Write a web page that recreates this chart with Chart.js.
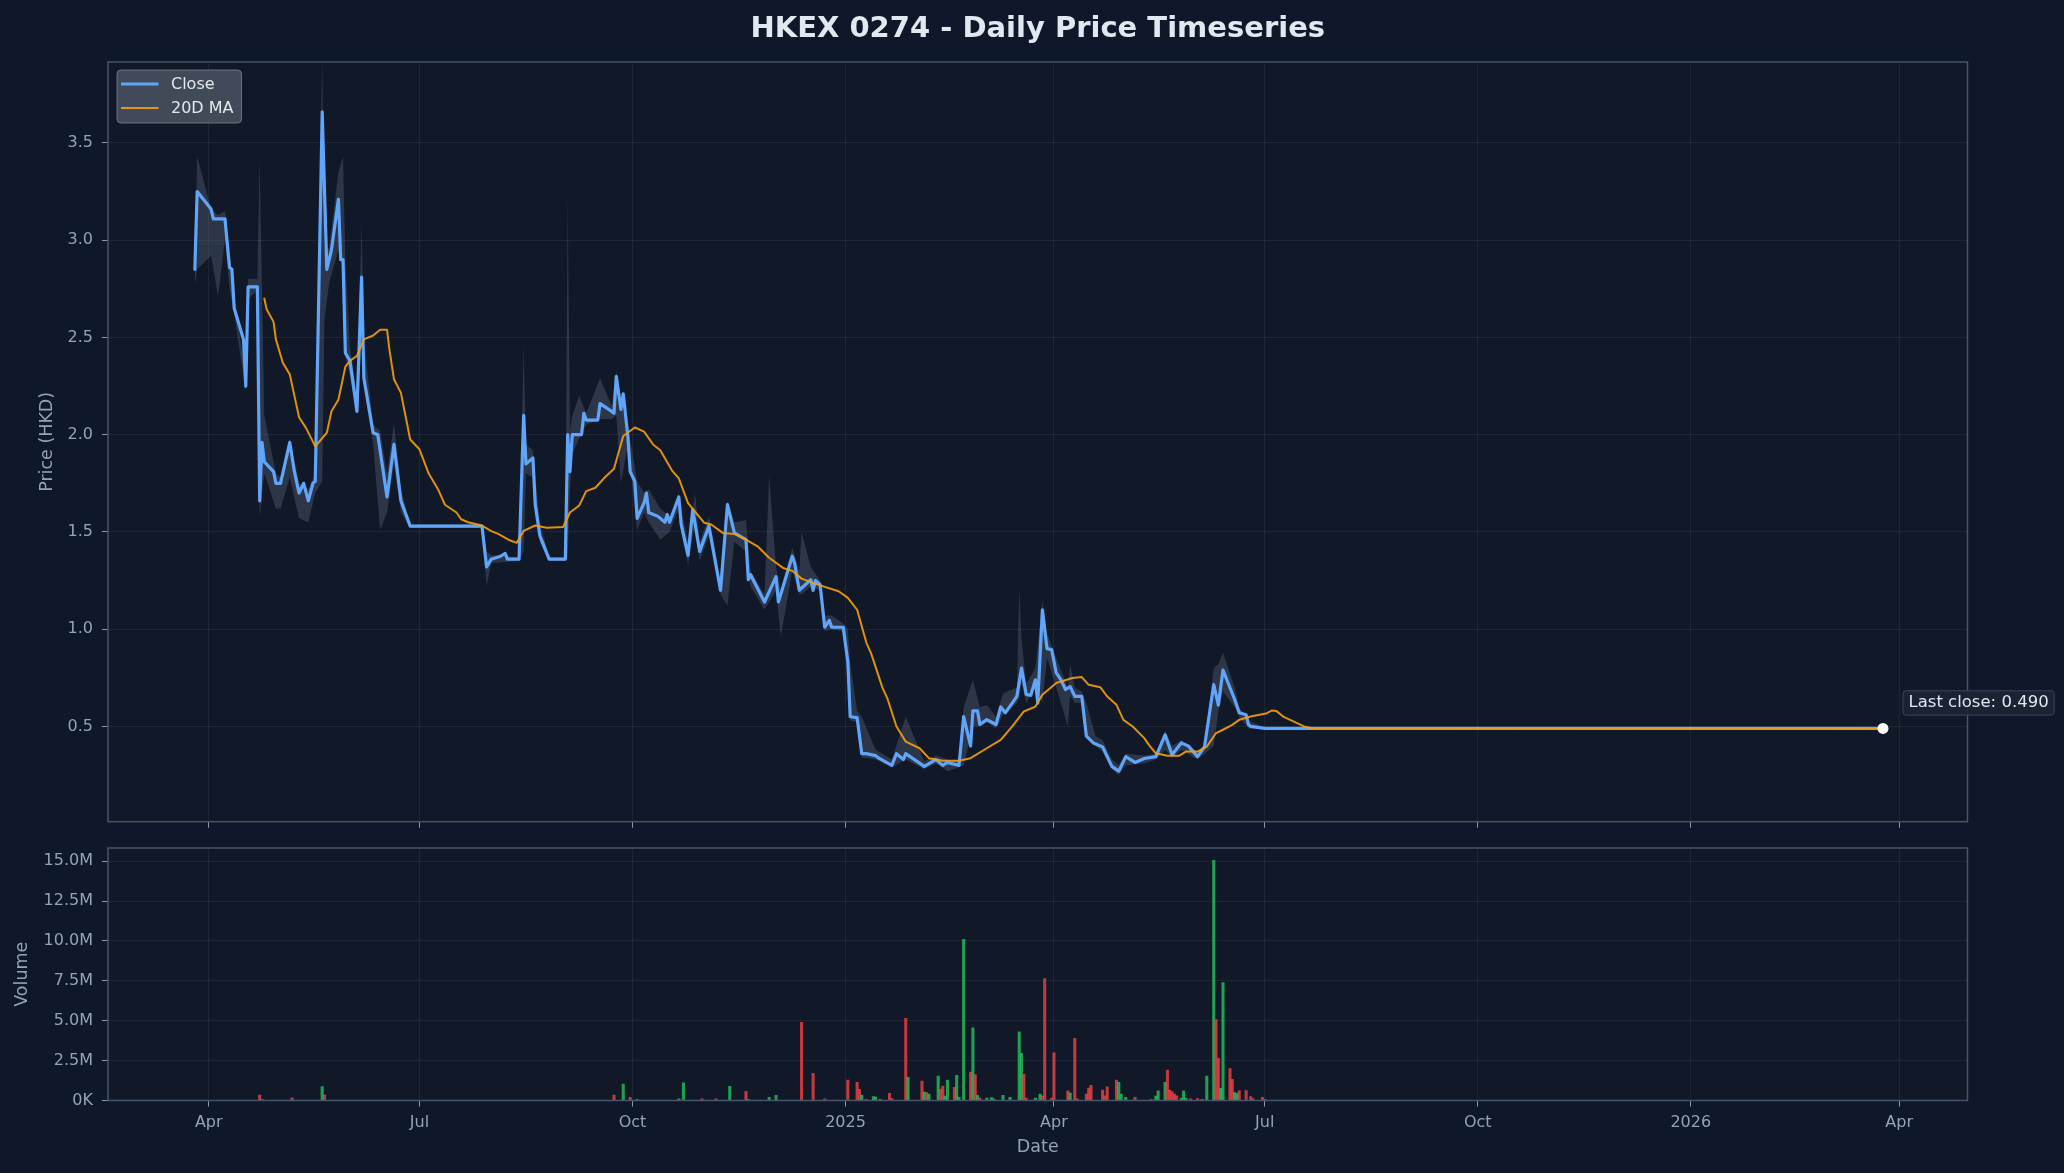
<!DOCTYPE html>
<html>
<head>
<meta charset="utf-8">
<script src="https://cdn.jsdelivr.net/npm/chart.js@4.4.1/dist/chart.umd.min.js"></script>
<style>
html,body{margin:0;padding:0;background:#0f172a;}
body{width:2064px;height:1173px;position:relative;overflow:hidden;}
#main{position:absolute;left:0;top:0;}
#vol{position:absolute;left:0;top:800px;}
</style>
</head>
<body>
<canvas id="main" width="2064" height="845"></canvas>
<canvas id="vol" width="2064" height="373"></canvas>
<script>
// ---------------- DATA ----------------
const titleText = 'HKEX 0274 - Daily Price Timeseries';

const closeDates = [
  '2024-03-26','2024-03-27','2024-04-02','2024-04-03','2024-04-08','2024-04-10','2024-04-11','2024-04-12','2024-04-16','2024-04-17','2024-04-18','2024-04-22','2024-04-23','2024-04-24','2024-04-25','2024-04-29','2024-04-30',
  '2024-05-02','2024-05-06','2024-05-08','2024-05-10','2024-05-12','2024-05-14','2024-05-16','2024-05-17','2024-05-20','2024-05-22','2024-05-24','2024-05-27','2024-05-28','2024-05-29','2024-05-30',
  '2024-06-01','2024-06-04','2024-06-06','2024-06-07','2024-06-11','2024-06-13','2024-06-17','2024-06-20','2024-06-23','2024-06-27',
  '2024-07-28','2024-07-30',
  '2024-08-01','2024-08-05','2024-08-07','2024-08-08','2024-08-13','2024-08-15','2024-08-16','2024-08-19','2024-08-20','2024-08-22','2024-08-26',
  '2024-09-02','2024-09-03','2024-09-04','2024-09-05','2024-09-09','2024-09-10','2024-09-11','2024-09-16','2024-09-17','2024-09-22','2024-09-23','2024-09-24','2024-09-26','2024-09-27','2024-09-29','2024-09-30',
  '2024-10-02','2024-10-03','2024-10-06','2024-10-07','2024-10-08','2024-10-12','2024-10-15','2024-10-16','2024-10-17','2024-10-21','2024-10-22','2024-10-25','2024-10-27','2024-10-30',
  '2024-11-03','2024-11-08','2024-11-11','2024-11-14','2024-11-19','2024-11-20','2024-11-21','2024-11-27',
  '2024-12-02','2024-12-03','2024-12-09','2024-12-10','2024-12-12','2024-12-17','2024-12-18','2024-12-19','2024-12-21','2024-12-23','2024-12-25','2024-12-26','2024-12-31',
  '2025-01-02','2025-01-03','2025-01-06','2025-01-08','2025-01-10','2025-01-14','2025-01-15','2025-01-21','2025-01-23','2025-01-26','2025-01-27',
  '2025-02-04','2025-02-09','2025-02-12','2025-02-14','2025-02-19','2025-02-21','2025-02-24','2025-02-25','2025-02-27','2025-02-28',
  '2025-03-03','2025-03-07','2025-03-09','2025-03-11','2025-03-16','2025-03-18','2025-03-20','2025-03-22','2025-03-24','2025-03-25','2025-03-27','2025-03-29','2025-03-31',
  '2025-04-02','2025-04-04','2025-04-06','2025-04-08','2025-04-10','2025-04-13','2025-04-15','2025-04-18','2025-04-22','2025-04-26','2025-04-29',
  '2025-05-02','2025-05-06','2025-05-10','2025-05-15','2025-05-19','2025-05-22','2025-05-26','2025-05-29',
  '2025-06-02','2025-06-05','2025-06-09','2025-06-11','2025-06-13','2025-06-18','2025-06-20','2025-06-23','2025-06-24','2025-06-25',
  '2025-07-01','2026-03-25'
];
const closeValues = [
  2.85,3.25,3.16,3.11,3.11,2.86,2.85,2.65,2.49,2.25,2.76,2.76,1.66,1.96,1.86,1.81,1.75,
  1.75,1.96,1.81,1.70,1.75,1.66,1.75,1.76,3.66,2.85,2.95,3.21,2.90,2.90,2.42,
  2.38,2.12,2.81,2.29,2.01,2.00,1.68,1.95,1.66,1.53,
  1.53,1.32,
  1.36,1.375,1.39,1.36,1.36,2.10,1.85,1.88,1.64,1.48,1.36,
  1.36,2.00,1.81,2.00,2.00,2.11,2.075,2.075,2.16,2.12,2.11,2.30,2.13,2.21,1.99,1.81,
  1.76,1.57,1.65,1.70,1.60,1.58,1.55,1.59,1.55,1.68,1.54,1.38,1.615,1.40,
  1.53,1.20,1.64,1.495,1.46,1.255,1.28,1.14,
  1.27,1.14,1.375,1.34,1.20,1.255,1.20,1.25,1.23,1.01,1.045,1.01,1.01,
  0.83,0.55,0.545,0.36,0.36,0.35,0.34,0.30,0.36,0.33,0.36,
  0.295,0.33,0.30,0.315,0.30,0.55,0.40,0.58,0.58,0.51,
  0.535,0.51,0.60,0.57,0.655,0.80,0.665,0.66,0.74,0.62,1.10,0.90,0.895,
  0.775,0.74,0.69,0.705,0.655,0.655,0.45,0.415,0.395,0.295,0.27,
  0.345,0.315,0.335,0.345,0.457,0.355,0.415,0.40,
  0.345,0.395,0.715,0.61,0.79,0.64,0.57,0.56,0.51,0.50,
  0.49,0.49
];

const maDates = [
  '2024-04-25','2024-04-26','2024-04-29','2024-04-30',
  '2024-05-03','2024-05-06','2024-05-10','2024-05-13','2024-05-17','2024-05-22','2024-05-24','2024-05-27','2024-05-30',
  '2024-06-01','2024-06-04','2024-06-07','2024-06-11','2024-06-14','2024-06-17','2024-06-18','2024-06-20','2024-06-23','2024-06-27',
  '2024-07-01','2024-07-05','2024-07-09','2024-07-12','2024-07-17','2024-07-19','2024-07-22','2024-07-28',
  '2024-08-01','2024-08-04','2024-08-09','2024-08-12','2024-08-15','2024-08-20','2024-08-25',
  '2024-09-01','2024-09-04','2024-09-08','2024-09-11','2024-09-15','2024-09-19','2024-09-23','2024-09-27',
  '2024-10-02','2024-10-06','2024-10-10','2024-10-13','2024-10-18','2024-10-21','2024-10-25','2024-10-28',
  '2024-11-01','2024-11-04','2024-11-09','2024-11-14','2024-11-19','2024-11-24','2024-11-29',
  '2024-12-05','2024-12-09','2024-12-13','2024-12-20','2024-12-29',
  '2025-01-02','2025-01-06','2025-01-10','2025-01-12','2025-01-17','2025-01-19','2025-01-23','2025-01-27',
  '2025-02-02','2025-02-06','2025-02-12','2025-02-19','2025-02-24',
  '2025-03-03','2025-03-09','2025-03-14','2025-03-19','2025-03-24','2025-03-27',
  '2025-04-02','2025-04-09','2025-04-13','2025-04-16','2025-04-21','2025-04-24','2025-04-28',
  '2025-05-01','2025-05-05','2025-05-10','2025-05-12','2025-05-15','2025-05-20','2025-05-25','2025-05-28',
  '2025-06-02','2025-06-06','2025-06-10','2025-06-13','2025-06-17','2025-06-20','2025-06-25',
  '2025-07-02','2025-07-04','2025-07-06','2025-07-09','2025-07-12','2025-07-15','2025-07-18','2025-07-21',
  '2026-03-25'
];
const maValues = [
  2.70,2.645,2.58,2.49,
  2.37,2.31,2.09,2.035,1.94,2.01,2.12,2.18,2.35,
  2.38,2.405,2.49,2.51,2.54,2.54,2.44,2.285,2.215,1.975,
  1.925,1.80,1.72,1.64,1.60,1.565,1.55,1.533,
  1.504,1.49,1.457,1.444,1.505,1.533,1.521,
  1.525,1.60,1.636,1.71,1.727,1.78,1.825,1.993,
  2.037,2.016,1.948,1.92,1.817,1.775,1.648,1.605,
  1.547,1.538,1.495,1.49,1.461,1.426,1.367,
  1.315,1.30,1.26,1.229,1.195,
  1.161,1.10,0.93,0.877,0.697,0.646,0.50,0.422,
  0.388,0.337,0.324,0.324,0.337,
  0.388,0.431,0.50,0.577,0.602,0.663,
  0.723,0.749,0.754,0.714,0.702,0.654,0.611,
  0.534,0.50,0.44,0.405,0.362,0.349,0.349,0.371,
  0.371,0.396,0.466,0.483,0.508,0.534,0.551,
  0.568,0.582,0.58,0.551,0.534,0.517,0.50,0.492,
  0.49
];

const bandDates = [
  '2024-03-26','2024-03-27',
  '2024-04-02','2024-04-05','2024-04-08','2024-04-10','2024-04-12','2024-04-17','2024-04-18','2024-04-22','2024-04-23','2024-04-25','2024-04-30',
  '2024-05-02','2024-05-06','2024-05-10','2024-05-14','2024-05-17','2024-05-20','2024-05-21','2024-05-23','2024-05-27','2024-05-29','2024-05-30',
  '2024-06-01','2024-06-04','2024-06-06','2024-06-07','2024-06-11','2024-06-14','2024-06-17','2024-06-20','2024-06-23','2024-06-27',
  '2024-07-28','2024-07-30',
  '2024-08-01','2024-08-13','2024-08-15','2024-08-16','2024-08-19','2024-08-22','2024-08-26',
  '2024-09-02','2024-09-03','2024-09-04','2024-09-05','2024-09-08','2024-09-11','2024-09-17','2024-09-22','2024-09-24','2024-09-26','2024-09-29',
  '2024-10-03','2024-10-06','2024-10-08','2024-10-13','2024-10-17','2024-10-21','2024-10-22','2024-10-25','2024-10-28','2024-10-30',
  '2024-11-03','2024-11-08','2024-11-11','2024-11-14','2024-11-19','2024-11-21','2024-11-27','2024-11-29',
  '2024-12-02','2024-12-04','2024-12-09','2024-12-12','2024-12-13','2024-12-17','2024-12-21','2024-12-23','2024-12-26','2024-12-31',
  '2025-01-02','2025-01-03','2025-01-06','2025-01-08','2025-01-14','2025-01-21','2025-01-27',
  '2025-02-04','2025-02-09','2025-02-14','2025-02-19','2025-02-21','2025-02-25','2025-02-28',
  '2025-03-03','2025-03-07','2025-03-10','2025-03-16','2025-03-17','2025-03-18','2025-03-20','2025-03-24','2025-03-27','2025-03-29',
  '2025-04-02','2025-04-07','2025-04-08','2025-04-10','2025-04-13','2025-04-15','2025-04-19','2025-04-22','2025-04-26','2025-04-29',
  '2025-05-02','2025-05-10','2025-05-15','2025-05-19','2025-05-22','2025-05-26',
  '2025-06-02','2025-06-05','2025-06-09','2025-06-11','2025-06-13','2025-06-18','2025-06-20','2025-06-24',
  '2025-07-01','2026-03-25'
];
const bandHigh = [
  2.87,3.43,
  3.16,3.13,3.15,2.90,2.70,2.30,2.80,2.80,3.42,2.10,1.80,
  1.78,1.98,1.75,1.72,1.80,3.95,2.95,2.96,3.35,3.43,2.90,
  2.45,2.20,3.09,2.50,2.05,2.02,1.80,2.06,1.72,1.54,
  1.54,1.40,
  1.38,1.37,2.46,1.95,1.92,1.55,1.37,
  1.37,3.24,2.02,2.10,2.20,2.11,2.29,2.15,2.33,2.15,2.05,
  1.76,1.70,1.72,1.62,1.58,1.70,1.62,1.45,1.70,1.45,
  1.58,1.25,1.66,1.55,1.56,1.30,1.18,1.79,
  1.32,1.20,1.42,1.30,1.50,1.32,1.25,1.07,1.07,1.03,
  1.00,0.83,0.58,0.55,0.38,0.33,0.55,
  0.32,0.35,0.33,0.32,0.60,0.74,0.60,
  0.61,0.55,0.67,0.70,1.21,0.95,0.72,0.80,1.15,0.98,
  0.85,0.70,0.82,0.70,0.68,0.62,0.45,0.43,0.33,0.30,
  0.36,0.35,0.36,0.48,0.40,0.43,
  0.37,0.41,0.80,0.82,0.88,0.70,0.60,0.53,
  0.495,0.49
];
const bandLow = [
  2.76,2.85,
  2.92,2.71,3.00,2.75,2.62,2.22,2.70,2.74,1.57,1.80,1.62,
  1.62,1.78,1.57,1.55,1.70,1.76,2.60,2.78,2.95,2.85,2.40,
  2.30,2.10,2.50,2.25,1.95,1.51,1.60,1.85,1.60,1.52,
  1.52,1.22,
  1.34,1.35,1.40,1.80,1.78,1.45,1.35,
  1.35,1.36,1.70,1.90,1.98,2.05,2.08,2.08,2.10,1.75,1.95,
  1.51,1.60,1.55,1.46,1.50,1.62,1.50,1.33,1.55,1.35,
  1.48,1.18,1.12,1.45,1.40,1.22,1.10,1.14,
  1.20,0.96,1.30,1.18,1.18,1.22,1.20,0.99,1.00,0.99,
  0.80,0.53,0.52,0.34,0.33,0.29,0.33,
  0.28,0.31,0.27,0.29,0.30,0.50,0.50,
  0.52,0.49,0.56,0.62,0.65,0.72,0.62,0.70,0.62,0.85,
  0.70,0.50,0.66,0.62,0.62,0.44,0.40,0.37,0.28,0.25,
  0.30,0.31,0.33,0.38,0.34,0.38,
  0.33,0.36,0.40,0.58,0.68,0.60,0.55,0.49,
  0.485,0.49
];

const volDates = [
  '2024-04-23','2024-04-24',
  '2024-05-07','2024-05-20','2024-05-21',
  '2024-09-23','2024-09-27','2024-09-30',
  '2024-10-03','2024-10-21','2024-10-23','2024-10-31',
  '2024-11-06','2024-11-12','2024-11-19','2024-11-20','2024-11-29',
  '2024-12-02','2024-12-13','2024-12-18','2024-12-23',
  '2025-01-02','2025-01-06','2025-01-07','2025-01-08','2025-01-10','2025-01-13','2025-01-14','2025-01-16','2025-01-20','2025-01-21','2025-01-27','2025-01-28',
  '2025-02-03','2025-02-04','2025-02-05','2025-02-06','2025-02-10','2025-02-11','2025-02-12','2025-02-13','2025-02-14','2025-02-17','2025-02-18','2025-02-19','2025-02-21','2025-02-24','2025-02-25','2025-02-26','2025-02-27','2025-02-28',
  '2025-03-03','2025-03-05','2025-03-06','2025-03-10','2025-03-13','2025-03-17','2025-03-18','2025-03-19','2025-03-20','2025-03-24','2025-03-26','2025-03-27','2025-03-28','2025-03-31',
  '2025-04-01','2025-04-07','2025-04-08','2025-04-10','2025-04-11','2025-04-15','2025-04-16','2025-04-17','2025-04-22','2025-04-23','2025-04-24','2025-04-28','2025-04-29','2025-04-30',
  '2025-05-02','2025-05-06','2025-05-13','2025-05-15','2025-05-16','2025-05-19','2025-05-20','2025-05-21','2025-05-22','2025-05-23','2025-05-24','2025-05-26','2025-05-27','2025-05-28','2025-05-30',
  '2025-06-02','2025-06-04','2025-06-06','2025-06-09','2025-06-10','2025-06-11','2025-06-12','2025-06-13','2025-06-16','2025-06-17','2025-06-18','2025-06-19','2025-06-20','2025-06-23','2025-06-25','2025-06-26','2025-06-30',
  '2025-07-01'
];
const volValues = [
  340000,50000,
  160000,880000,340000,
  340000,1030000,200000,
  80000,100000,1100000,110000,
  110000,890000,570000,80000,200000,
  330000,4900000,1700000,100000,
  1280000,1140000,700000,340000,80000,240000,220000,80000,450000,120000,5150000,1450000,
  1220000,530000,500000,400000,1530000,720000,900000,270000,1280000,830000,1580000,200000,10100000,1780000,4560000,1620000,330000,150000,
  150000,180000,100000,330000,200000,4310000,2960000,1660000,150000,150000,400000,300000,7650000,150000,
  2990000,600000,460000,3900000,100000,400000,780000,950000,660000,300000,850000,1280000,1140000,400000,
  200000,200000,80000,270000,600000,1140000,1910000,660000,550000,400000,300000,150000,600000,150000,100000,
  120000,80000,1530000,15060000,5080000,2640000,760000,7400000,2000000,1330000,500000,450000,600000,620000,250000,100000,200000,
  80000
];
// 1 = close up (green), -1 = close down (red)
const volDir = [
  -1,1,
  -1,1,-1,
  -1,1,-1,
  -1,1,1,-1,
  -1,1,-1,-1,1,
  1,-1,-1,-1,
  -1,-1,-1,1,-1,1,1,1,-1,-1,-1,1,
  -1,1,-1,1,1,-1,-1,1,1,-1,1,1,1,-1,1,-1,1,-1,
  1,1,1,1,1,1,1,-1,-1,1,1,-1,-1,-1,
  -1,-1,1,-1,-1,-1,-1,-1,-1,-1,-1,-1,1,1,
  1,-1,-1,1,1,1,-1,-1,-1,-1,-1,1,1,1,-1,
  -1,1,1,1,-1,-1,1,1,-1,-1,1,1,-1,-1,-1,-1,-1,
  -1
];

const tickDates = ['2024-04-01','2024-07-01','2024-10-01','2025-01-01','2025-04-01','2025-07-01','2025-10-01','2026-01-01','2026-04-01'];
const tickLabels = ['Apr','Jul','Oct','2025','Apr','Jul','Oct','2026','Apr'];
const priceTicks = [0.5,1.0,1.5,2.0,2.5,3.0,3.5];
const volumeTicks = [0,2500000,5000000,7500000,10000000,12500000,15000000];

// ---------------- HELPERS ----------------
const DAY0 = Date.UTC(2024, 3, 1);
const toDay = s => (Date.parse(s + 'T00:00:00Z') - DAY0) / 864e5;
const pts = (dates, vals) => dates.map((d, i) => ({x: toDay(d), y: vals[i]}));

const xPad = 36.5;
const xMin = toDay('2024-03-25') - xPad;
const xMax = toDay(closeDates[closeDates.length - 1]) + xPad;
const yMin = 0.0103, yMax = 3.916;
const vMax = 15830000;

const lastDate = closeDates[closeDates.length - 1];
const lastClose = closeValues[closeValues.length - 1];

const FONT = "'DejaVu Sans', sans-serif";
Chart.defaults.font.family = FONT;
Chart.defaults.color = '#94a3b8';

const gridColor = 'rgba(148,163,184,0.10)';
const tickMarkColor = '#8b97a8';
const labelColor = '#94a3b8';

function rrect(ctx, x, y, w, h, r) {
  ctx.beginPath();
  ctx.moveTo(x + r, y);
  ctx.lineTo(x + w - r, y); ctx.arcTo(x + w, y, x + w, y + r, r);
  ctx.lineTo(x + w, y + h - r); ctx.arcTo(x + w, y + h, x + w - r, y + h, r);
  ctx.lineTo(x + r, y + h); ctx.arcTo(x, y + h, x, y + h - r, r);
  ctx.lineTo(x, y + r); ctx.arcTo(x, y, x + r, y, r);
  ctx.closePath();
}

const plotBg = {
  id: 'plotBg',
  beforeDraw(chart) {
    const {ctx, chartArea: a} = chart;
    ctx.save(); ctx.fillStyle = '#111827';
    ctx.fillRect(a.left, a.top, a.right - a.left, a.bottom - a.top);
    ctx.restore();
  }
};
const frame = {
  id: 'frame',
  afterDraw(chart) {
    const {ctx, chartArea: a} = chart;
    ctx.save(); ctx.strokeStyle = '#475569'; ctx.lineWidth = 1.5;
    ctx.strokeRect(a.left, a.top, a.right - a.left, a.bottom - a.top);
    ctx.restore();
  }
};
const legendBox = {
  id: 'legendBox',
  afterDraw(chart) {
    const {ctx, chartArea: a} = chart;
    const items = chart.data.datasets.filter(d => d.inLegend);
    const x = a.left + 9, y = a.top + 8, w = 124.5, h = 53;
    ctx.save();
    rrect(ctx, x, y, w, h, 4);
    ctx.fillStyle = 'rgba(75,85,99,0.82)'; ctx.fill();
    ctx.lineWidth = 1; ctx.strokeStyle = 'rgba(120,130,145,0.8)'; ctx.stroke();
    ctx.font = '16px ' + FONT; ctx.textBaseline = 'middle'; ctx.textAlign = 'left';
    items.forEach((d, i) => {
      const ly = y + 14 + i * 24;
      ctx.beginPath(); ctx.moveTo(x + 4, ly); ctx.lineTo(x + 41.5, ly);
      ctx.strokeStyle = d.borderColor; ctx.lineWidth = d.borderWidth; ctx.lineCap = 'butt'; ctx.stroke();
      ctx.fillStyle = '#e5e7eb'; ctx.fillText(d.label, x + 54, ly + 0.5);
    });
    ctx.restore();
  }
};
const lastLabel = {
  id: 'lastLabel',
  afterDraw(chart) {
    const {ctx} = chart;
    const idx = chart.data.datasets.findIndex(d => d.isLast);
    const p = chart.getDatasetMeta(idx).data[0];
    if (!p) return;
    const text = 'Last close: ' + lastClose.toFixed(3);
    ctx.save();
    ctx.font = '16.5px ' + FONT;
    const tw = ctx.measureText(text).width;
    rrect(ctx, p.x + 20, p.y - 37.6, tw + 11, 24.3, 3);
    ctx.fillStyle = 'rgba(27,36,53,0.92)'; ctx.fill();
    ctx.lineWidth = 1; ctx.strokeStyle = '#3b4658'; ctx.stroke();
    ctx.fillStyle = '#e2e8f0'; ctx.textBaseline = 'middle'; ctx.textAlign = 'left';
    ctx.fillText(text, p.x + 25.5, p.y - 25.4);
    ctx.restore();
  }
};

const xTicksBuild = s => { s.ticks = tickDates.map(d => ({value: toDay(d)})); };

// ---------------- PRICE CHART ----------------
new Chart(document.getElementById('main'), {
  type: 'line',
  data: {
    datasets: [
      {label: 'Low', data: pts(bandDates, bandLow), borderWidth: 0, borderColor: 'rgba(0,0,0,0)', pointRadius: 0, fill: false, order: 5},
      {label: 'High', data: pts(bandDates, bandHigh), borderWidth: 0, borderColor: 'rgba(0,0,0,0)', pointRadius: 0, fill: '-1', backgroundColor: 'rgba(100,116,139,0.33)', order: 4},
      {label: 'Close', data: pts(closeDates, closeValues), borderColor: '#60a5fa', borderWidth: 3.2, pointRadius: 0, fill: false, order: 3, borderJoinStyle: 'round', borderCapStyle: 'round', inLegend: true},
      {label: '20D MA', data: pts(maDates, maValues), borderColor: 'rgba(245,158,11,0.9)', borderWidth: 2, pointRadius: 0, fill: false, order: 2, borderJoinStyle: 'round', borderCapStyle: 'round', inLegend: true},
      {label: 'Last close', type: 'scatter', data: [{x: toDay(lastDate), y: lastClose}], pointRadius: 5.5, pointBackgroundColor: '#ffffff', backgroundColor: '#ffffff', borderWidth: 0, pointBorderWidth: 0, order: 1, showLine: false, isLast: true}
    ]
  },
  options: {
    responsive: false, animation: false, devicePixelRatio: 1,
    layout: {padding: {left: 0, right: 96.5, top: 0, bottom: 0}},
    plugins: {
      legend: {display: false}, tooltip: {enabled: false},
      title: {display: true, text: titleText, fullSize: false, color: '#e2e8f0',
        font: {family: FONT, size: 29, weight: 'bold'}, padding: {top: 12, bottom: 15.2}}
    },
    scales: {
      x: {
        type: 'linear', min: xMin, max: xMax,
        afterBuildTicks: xTicksBuild,
        afterFit: s => { s.height = 23.3; },
        grid: {color: gridColor, tickColor: tickMarkColor, tickLength: 6, lineWidth: 1},
        border: {display: false},
        ticks: {display: false, autoSkip: false}
      },
      y: {
        type: 'linear', min: yMin, max: yMax,
        afterBuildTicks: s => { s.ticks = priceTicks.map(v => ({value: v})); },
        afterFit: s => { s.width = 108; },
        grid: {color: gridColor, tickColor: tickMarkColor, tickLength: 6, lineWidth: 1},
        border: {display: false},
        ticks: {color: labelColor, font: {size: 16}, padding: 9, autoSkip: false, callback: v => Number(v).toFixed(1)},
        title: {display: true, text: 'Price (HKD)', color: labelColor, font: {size: 17.5}, padding: {top: 36.9, bottom: 0}}
      }
    }
  },
  plugins: [plotBg, frame, legendBox, lastLabel]
});

// ---------------- VOLUME CHART ----------------
const upColor = 'rgba(34,197,94,0.8)';
const downColor = 'rgba(239,68,68,0.8)';
new Chart(document.getElementById('vol'), {
  type: 'bar',
  data: {
    datasets: [{
      label: 'Volume',
      data: pts(volDates, volValues),
      backgroundColor: volDir.map(d => d > 0 ? upColor : downColor),
      borderWidth: 0, barThickness: 2.4
    }]
  },
  options: {
    responsive: false, animation: false, devicePixelRatio: 1,
    layout: {padding: {left: 0, right: 96.5, top: 48, bottom: 0}},
    plugins: {legend: {display: false}, tooltip: {enabled: false}},
    scales: {
      x: {
        type: 'linear', min: xMin, max: xMax, offset: false,
        afterBuildTicks: xTicksBuild,
        afterFit: s => { s.height = 72.5; },
        grid: {color: gridColor, tickColor: tickMarkColor, tickLength: 6, lineWidth: 1, offset: false},
        border: {display: false},
        ticks: {color: labelColor, font: {size: 16}, padding: 6.6, autoSkip: false, maxRotation: 0, callback: (v, i) => tickLabels[i]},
        title: {display: true, text: 'Date', color: labelColor, font: {size: 17.5}, padding: {top: 0, bottom: 15.5}}
      },
      y: {
        type: 'linear', min: 0, max: vMax,
        afterBuildTicks: s => { s.ticks = volumeTicks.map(v => ({value: v})); },
        afterFit: s => { s.width = 108; },
        grid: {color: gridColor, tickColor: tickMarkColor, tickLength: 6, lineWidth: 1},
        border: {display: false},
        ticks: {color: labelColor, font: {size: 16}, padding: 9, autoSkip: false,
          callback: v => v === 0 ? '0K' : (v / 1e6).toFixed(1) + 'M'},
        title: {display: true, text: 'Volume', color: labelColor, font: {size: 17.5}, padding: {top: 11.8, bottom: 0}}
      }
    }
  },
  plugins: [plotBg, frame]
});
</script>
</body>
</html>
